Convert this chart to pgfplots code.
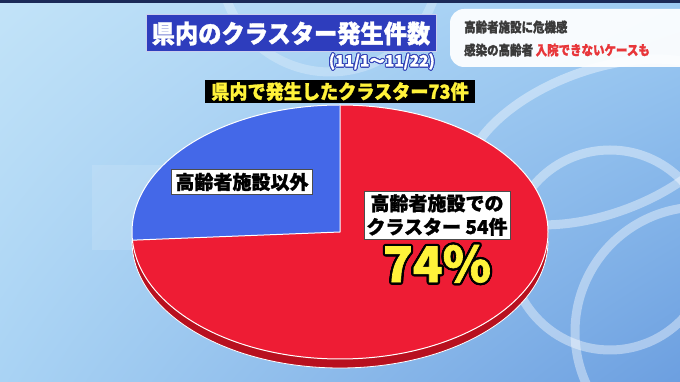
\documentclass[border=0pt]{standalone}
\usepackage{graphicx}
\usepackage{fontspec}
\setmainfont{Noto Sans CJK JP}[BoldFeatures={FakeBold=1.3}]
\usepackage[copies]{contour}
\usepackage{pgfplots}
\usepackage{pgfplotstable}
\usetikzlibrary{shadings}
\pgfplotsset{compat=1.18}
\definecolor{bgUL}{HTML}{C2E3F8}
\definecolor{bgUR}{HTML}{9CCAF2}
\definecolor{bgLL}{HTML}{A9D3F4}
\definecolor{bgLR}{HTML}{6C9FE0}
\definecolor{piered}{HTML}{EE1C34}
\definecolor{pieblue}{HTML}{4468E8}
\definecolor{rimred}{HTML}{B8101F}
\definecolor{titleblue}{HTML}{2E3DBD}
\definecolor{navy}{HTML}{1B2A58}
\definecolor{ylw}{HTML}{FFF23A}
\definecolor{txtgray}{HTML}{3A3A3A}
\definecolor{txtred}{HTML}{E8363A}
\definecolor{subblue}{HTML}{3444B8}
\pgfplotstableread{
share value
elderly 54
other 19
}\piedata
\pgfplotstablegetelem{0}{value}\of\piedata\let\vA\pgfplotsretval
\pgfplotstablegetelem{1}{value}\of\piedata\let\vB\pgfplotsretval
\pgfmathsetmacro\fracA{\vA/(\vA+\vB)}
\pgfmathsetmacro\fracB{\vB/(\vA+\vB)}
\pgfmathsetmacro\angA{90-360*\fracA}
\pgfmathsetmacro\angB{90+360*\fracB}
\begin{document}%
\begin{tikzpicture}
\begin{axis}[scale only axis, width=680pt, height=382pt,
  xmin=0, xmax=680, ymin=0, ymax=382, hide axis]
\coordinate (BL) at (rel axis cs:0,0);
\coordinate (TR) at (rel axis cs:1,1);
% background
\shade[upper left=bgUL, upper right=bgUR, lower left=bgLL, lower right=bgLR]
  (axis cs:0,0) rectangle (axis cs:680,382);
\fill[white, opacity=0.12] (axis cs:92,132) rectangle (axis cs:200,217);
% decorative rings
\draw[white, opacity=0.4, line width=9pt, rotate around={20:(axis cs:600,240)}]
  (axis cs:600,240) ellipse [x radius=140pt, y radius=72pt];
\draw[white, opacity=0.4, line width=9pt] (axis cs:610,132) circle [radius=100pt];
\draw[white, opacity=0.4, line width=9pt] (axis cs:700,50) circle [radius=125pt];
\draw[white, opacity=0.25, line width=9pt] (axis cs:330,420) circle [radius=110pt];
\fill[navy] (axis cs:0,379) rectangle (axis cs:680,382);
% pie rim
\fill[rimred] (axis cs:132,150) -- (axis cs:132,141)
  arc[start angle=180, end angle=360, x radius=208pt, y radius=127pt]
  -- (axis cs:548,150) -- cycle;
\draw[white, line width=0.8pt] (axis cs:132,141)
  arc[start angle=180, end angle=360, x radius=208pt, y radius=127pt];
% pie slices
\fill[piered] (axis cs:340,150) -- (axis cs:340,277)
  arc[start angle=90, end angle=\angA, x radius=208pt, y radius=127pt] -- cycle;
\fill[pieblue] (axis cs:340,150) -- (axis cs:340,277)
  arc[start angle=90, end angle=\angB, x radius=208pt, y radius=127pt] -- cycle;
\draw[white, line width=1pt] (axis cs:340,150) ellipse [x radius=208pt, y radius=127pt];
\draw[white, line width=1pt] (axis cs:340,277) -- (axis cs:340,150)
  -- ++(\angB:208pt and 127pt);
% title
\node[fill=titleblue, draw=white!75!titleblue, line width=1pt, minimum width=290pt,
  minimum height=37pt, inner sep=0pt, text=white] at (axis cs:291,348.5)
  {\fontsize{25}{30}\selectfont\bfseries\scalebox{0.93}[1]{県内のクラスター発生件数}};
\node[anchor=east, inner sep=0pt] at (axis cs:435,320)
  {\fontsize{15.5}{17}\selectfont\bfseries\contourlength{1pt}\contour{subblue}{\textcolor{white}{(11/1〜11/22)}}};
% top right banner
\fill[white, opacity=0.93, rounded corners=14pt] (axis cs:450,315) rectangle (axis cs:700,373);
\node[anchor=west, inner sep=0pt, text=txtgray] at (axis cs:464,355)
  {\fontsize{13.5}{16}\selectfont\bfseries\scalebox{0.85}[1]{高齢者施設に危機感}};
\node[anchor=west, inner sep=0pt, text=txtgray] at (axis cs:464,332)
  {\fontsize{13.5}{16}\selectfont\bfseries\scalebox{0.85}[1]{感染の高齢者 \textcolor{txtred}{入院できないケースも}}};
% subtitle box
\node[fill=black, minimum width=270pt, minimum height=23pt, inner sep=0pt, text=ylw]
  at (axis cs:340,290.5)
  {\fontsize{19.5}{22}\selectfont\bfseries\scalebox{0.93}[1]{県内で発生したクラスター73件}};
% slice labels
\node[fill=white, draw=black!70, line width=0.6pt, minimum width=141pt, minimum height=25pt,
  inner sep=0pt] at (axis cs:242,200)
  {\fontsize{19}{22}\selectfont\bfseries 高齢者施設以外};
\node[fill=white, draw=black!70, line width=0.6pt, minimum width=146pt, minimum height=48pt,
  inner sep=0pt, align=center, font={\fontsize{19}{23.5}\selectfont\bfseries}]
  at (axis cs:437,167) {高齢者施設での\\クラスター 54件};
\node[inner sep=0pt] at (axis cs:437,117)
  {\fontsize{49}{52}\selectfont\bfseries\contourlength{2.3pt}\contour{black}{\textcolor{ylw}{74\%}}};
\end{axis}
\pgfresetboundingbox
\useasboundingbox (BL) rectangle (TR);
\end{tikzpicture}%
\end{document}
